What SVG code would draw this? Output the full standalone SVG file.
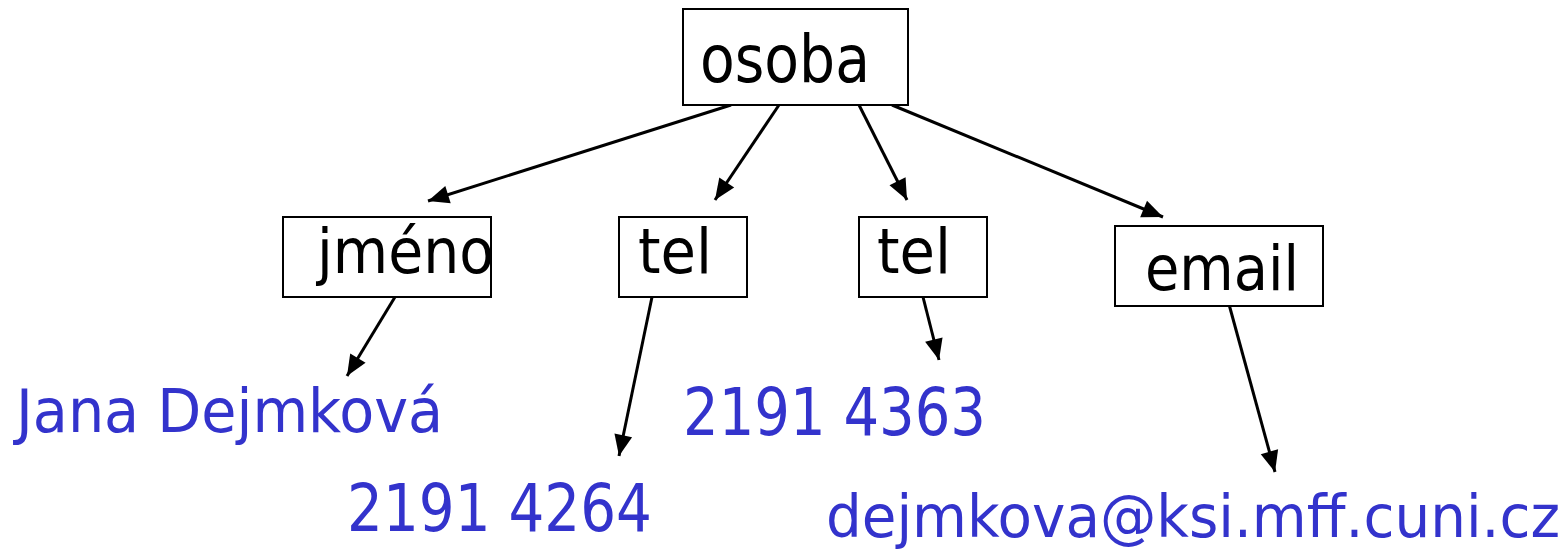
<svg xmlns="http://www.w3.org/2000/svg" width="1568" height="557" viewBox="0 0 1568 557">
  <style>
    .box { fill: #ffffff; stroke: #000000; stroke-width: 2; }
    .lbl { font-family: "DejaVu Sans", "Liberation Sans", sans-serif; fill: #000000; }
    .val { font-family: "DejaVu Sans", "Liberation Sans", sans-serif; fill: #3333cc; }
    .edge { stroke: #000000; stroke-width: 3; fill: none; marker-end: url(#arrow); }
  </style>
  <defs>
    <marker id="arrow" markerUnits="userSpaceOnUse" markerWidth="24" markerHeight="22" refX="21" refY="9" orient="auto" overflow="visible">
      <path d="M0,0 L21,9 L0,18 z" fill="#000000"/>
    </marker>
  </defs>
  <rect width="1568" height="557" fill="#ffffff"/>

  <!-- connectors -->
  <g id="edges">
    <line class="edge" x1="731" y1="105" x2="428" y2="201"/>
    <line class="edge" x1="779" y1="105" x2="715" y2="200"/>
    <line class="edge" x1="859" y1="105" x2="907" y2="200"/>
    <line class="edge" x1="892" y1="105" x2="1163" y2="217"/>
    <line class="edge" x1="395" y1="297" x2="347" y2="376"/>
    <line class="edge" x1="652" y1="297" x2="619" y2="456"/>
    <line class="edge" x1="923" y1="297" x2="939" y2="360"/>
    <line class="edge" x1="1227" y1="297" x2="1275" y2="472"/>
  </g>

  <!-- element nodes -->
  <g id="osoba">
    <rect class="box" x="683" y="9" width="225" height="96"/>
    <text class="lbl" x="700" y="82" font-size="65" textLength="170" lengthAdjust="spacingAndGlyphs">osoba</text>
  </g>
  <g id="jmeno">
    <rect class="box" x="283" y="217" width="208" height="80"/>
    <text class="lbl" x="317" y="273" font-size="63" textLength="177" lengthAdjust="spacingAndGlyphs">jméno</text>
  </g>
  <g id="tel1">
    <rect class="box" x="619" y="217" width="128" height="80"/>
    <text class="lbl" x="638" y="273" font-size="63" textLength="74" lengthAdjust="spacingAndGlyphs">tel</text>
  </g>
  <g id="tel2">
    <rect class="box" x="859" y="217" width="128" height="80"/>
    <text class="lbl" x="877" y="273" font-size="63" textLength="74" lengthAdjust="spacingAndGlyphs">tel</text>
  </g>
  <g id="email">
    <rect class="box" x="1115" y="226" width="208" height="80"/>
    <text class="lbl" x="1145" y="290" font-size="63" textLength="154" lengthAdjust="spacingAndGlyphs">email</text>
  </g>

  <!-- text values -->
  <g id="val-jmeno">
    <text class="val" x="16" y="432" font-size="61" textLength="427" lengthAdjust="spacingAndGlyphs">Jana Dejmková</text>
  </g>
  <g id="val-tel1">
    <text class="val" x="347" y="531" font-size="66" textLength="305" lengthAdjust="spacingAndGlyphs">2191 4264</text>
  </g>
  <g id="val-tel2">
    <text class="val" x="683" y="435" font-size="65" textLength="303" lengthAdjust="spacingAndGlyphs">2191 4363</text>
  </g>
  <g id="val-email">
    <text class="val" x="826" y="537" font-size="58" textLength="734" lengthAdjust="spacingAndGlyphs">dejmkova@ksi.mff.cuni.cz</text>
  </g>
</svg>
